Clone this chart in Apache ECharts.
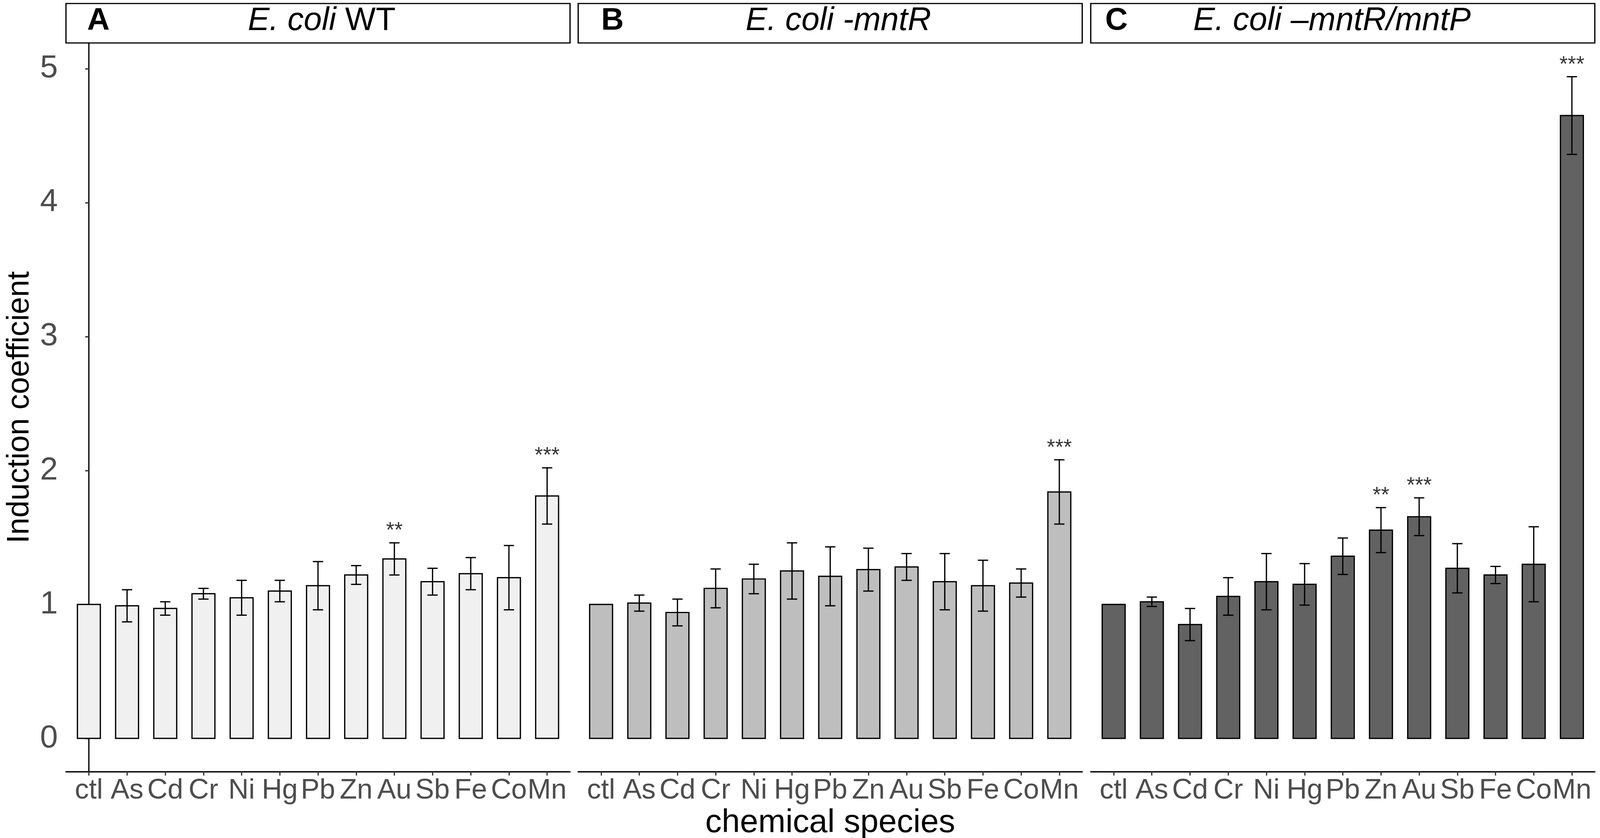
<!DOCTYPE html>
<html>
<head>
<meta charset="utf-8">
<script src="https://cdn.jsdelivr.net/npm/echarts@6/dist/echarts.min.js"></script>
<style>
  html, body { margin: 0; padding: 0; background: #fff; overflow: hidden; }
  #main { width: 100vw; height: 100vh; }
</style>
</head>
<body>
<div id="main"></div>
<script>
var categories = ['ctl', 'As', 'Cd', 'Cr', 'Ni', 'Hg', 'Pb', 'Zn', 'Au', 'Sb', 'Fe', 'Co', 'Mn'];
var yTicks = [0, 1, 2, 3, 4, 5];

// A: E. coli WT
var wtMean  = [1.00, 0.99, 0.97, 1.08, 1.05, 1.10, 1.14, 1.22, 1.34, 1.17, 1.23, 1.20, 1.81];
var wtSe    = [0, 0.12, 0.05, 0.04, 0.13, 0.08, 0.18, 0.07, 0.12, 0.10, 0.12, 0.24, 0.21];
var wtStars = ['', '', '', '', '', '', '', '', '**', '', '', '', '***'];

// B: E. coli -mntR
var mntrMean  = [1.00, 1.01, 0.94, 1.12, 1.19, 1.25, 1.21, 1.26, 1.28, 1.17, 1.14, 1.16, 1.84];
var mntrSe    = [0, 0.06, 0.10, 0.145, 0.11, 0.21, 0.22, 0.16, 0.10, 0.21, 0.19, 0.105, 0.24];
var mntrStars = ['', '', '', '', '', '', '', '', '', '', '', '', '***'];

// C: E. coli -mntR/mntP
var mntpMean  = [1.00, 1.02, 0.85, 1.06, 1.17, 1.15, 1.36, 1.555, 1.655, 1.27, 1.22, 1.30, 4.65];
var mntpSe    = [0, 0.035, 0.12, 0.14, 0.21, 0.155, 0.136, 0.168, 0.141, 0.184, 0.064, 0.28, 0.29];
var mntpStars = ['', '', '', '', '', '', '', '**', '***', '', '', '', '***'];

var FONT = "'Liberation Sans', Arial, sans-serif";

// layout was measured on a 4317x2146 canvas, scale it to the real viewport
var SX = window.innerWidth / 4317;
var SY = window.innerHeight / 2146;
function px(v) { return v * SX; }
function py(v) { return v * SY; }
function fs(v) { return Math.round(v * SY); }

var TOP = 110, AXIS_Y = 1976;
var LW = 3.4;

var panels = [
  { left: 178, right: 1538, mean: wtMean, se: wtSe, stars: wtStars, fill: '#F0F0F0',
    letter: 'A', letterX: 235, titleX: 868, title: '{i|E. coli} WT' },
  { left: 1560, right: 2920, mean: mntrMean, se: mntrSe, stars: mntrStars, fill: '#BEBEBE',
    letter: 'B', letterX: 1622, titleX: 2262, title: '{i|E. coli -mntR}' },
  { left: 2943, right: 4303, mean: mntpMean, se: mntpSe, stars: mntpStars, fill: '#626262',
    letter: 'C', letterX: 2982, titleX: 3594, title: '{i|E. coli \u2013mntR/mntP}' }
];

var idx = categories.map(function (c, i) { return i; });

var grids = [], xAxes = [], yAxes = [], series = [], graphics = [];

panels.forEach(function (p, k) {
  grids.push({
    left: px(p.left), width: px(p.right - p.left), top: py(TOP), height: py(AXIS_Y - TOP),
    containLabel: false, outerBoundsMode: 'none'
  });

  xAxes.push({
    type: 'value', gridIndex: k, min: -0.6, max: 12.6,
    splitLine: { show: false },
    axisLine: { show: true, onZero: false, lineStyle: { color: '#000', width: py(LW) } },
    axisTick: { show: true, customValues: idx, length: py(10), lineStyle: { color: '#333', width: px(LW) } },
    axisLabel: {
      customValues: idx, margin: py(13), color: '#4D4D4D', fontSize: fs(72), fontFamily: FONT,
      formatter: function (v) { return categories[Math.round(v)]; }
    },
    name: k === 1 ? 'chemical species' : '',
    nameLocation: 'middle', nameGap: py(68),
    nameTextStyle: { color: '#000', fontSize: fs(84), fontFamily: FONT }
  });

  yAxes.push({
    type: 'value', gridIndex: k, min: -0.248, max: 5.192,
    show: k === 0,
    splitLine: { show: false },
    axisLine: { show: true, lineStyle: { color: '#000', width: px(LW) } },
    axisTick: { show: true, customValues: yTicks, length: px(10), lineStyle: { color: '#333', width: py(LW) } },
    axisLabel: { customValues: yTicks, margin: px(22), color: '#4D4D4D', fontSize: fs(82), fontFamily: FONT },
    name: k === 0 ? 'Induction coefficient' : '',
    nameLocation: 'middle', nameGap: px(82),
    nameTextStyle: { color: '#000', fontSize: fs(79), fontFamily: FONT }
  });

  var barData = p.mean.map(function (m, i) { return [i, m]; });
  var errData = [];
  p.mean.forEach(function (m, i) {
    if (p.se[i] > 0) errData.push([i, m - p.se[i], m + p.se[i]]);
  });
  var starData = [];
  p.stars.forEach(function (s, i) {
    if (s) starData.push([i, p.mean[i] + p.se[i], s]);
  });

  series.push({
    type: 'custom', xAxisIndex: k, yAxisIndex: k, data: barData,
    renderItem: function (params, api) {
      var i = api.value(0), v = api.value(1);
      var a = api.coord([i - 0.3, v]), b = api.coord([i + 0.3, 0]);
      return {
        type: 'rect',
        shape: { x: a[0], y: a[1], width: b[0] - a[0], height: b[1] - a[1] },
        style: { fill: p.fill, stroke: '#000', lineWidth: px(LW) }
      };
    }
  });

  series.push({
    type: 'custom', xAxisIndex: k, yAxisIndex: k, data: errData, z: 3,
    renderItem: function (params, api) {
      var i = api.value(0), lo = api.value(1), hi = api.value(2);
      var w = 0.135;
      var st = { stroke: '#000', lineWidth: px(LW) };
      var t = api.coord([i, hi]), bt = api.coord([i, lo]);
      var tl = api.coord([i - w, hi]), tr = api.coord([i + w, hi]);
      var bl = api.coord([i - w, lo]), br = api.coord([i + w, lo]);
      return {
        type: 'group',
        children: [
          { type: 'line', shape: { x1: t[0], y1: t[1], x2: bt[0], y2: bt[1] }, style: st },
          { type: 'line', shape: { x1: tl[0], y1: tl[1], x2: tr[0], y2: tr[1] }, style: st },
          { type: 'line', shape: { x1: bl[0], y1: bl[1], x2: br[0], y2: br[1] }, style: st }
        ]
      };
    }
  });

  series.push({
    type: 'scatter', xAxisIndex: k, yAxisIndex: k, data: starData,
    symbolSize: 2, itemStyle: { color: 'transparent' }, silent: true, z: 4,
    label: {
      show: true, position: 'inside', offset: [0, -py(30)],
      formatter: function (q) { return q.data[2]; },
      color: '#000', fontSize: fs(55), fontFamily: FONT
    }
  });

  // facet strip
  graphics.push({
    type: 'rect', x: px(p.left), y: py(9),
    shape: { x: 0, y: 0, width: px(p.right - p.left), height: py(TOP - 9) },
    style: { fill: '#fff', stroke: '#000', lineWidth: px(LW) }
  });
  graphics.push({
    type: 'text', x: px(p.letterX), y: py(54),
    style: { text: p.letter, font: 'bold ' + fs(80) + 'px ' + FONT, fill: '#000', textAlign: 'left', textVerticalAlign: 'middle' }
  });
  graphics.push({
    type: 'text', x: px(p.titleX), y: py(54),
    style: {
      text: p.title, font: fs(83) + 'px ' + FONT, fill: '#000',
      textAlign: 'center', textVerticalAlign: 'middle',
      rich: { i: { fontStyle: 'italic', fontSize: fs(83), fontFamily: FONT } }
    }
  });
});

var chart = echarts.init(document.getElementById('main'));
chart.setOption({
  animation: false,
  backgroundColor: '#fff',
  grid: grids,
  xAxis: xAxes,
  yAxis: yAxes,
  series: series,
  graphic: graphics
});
</script>
</body>
</html>
